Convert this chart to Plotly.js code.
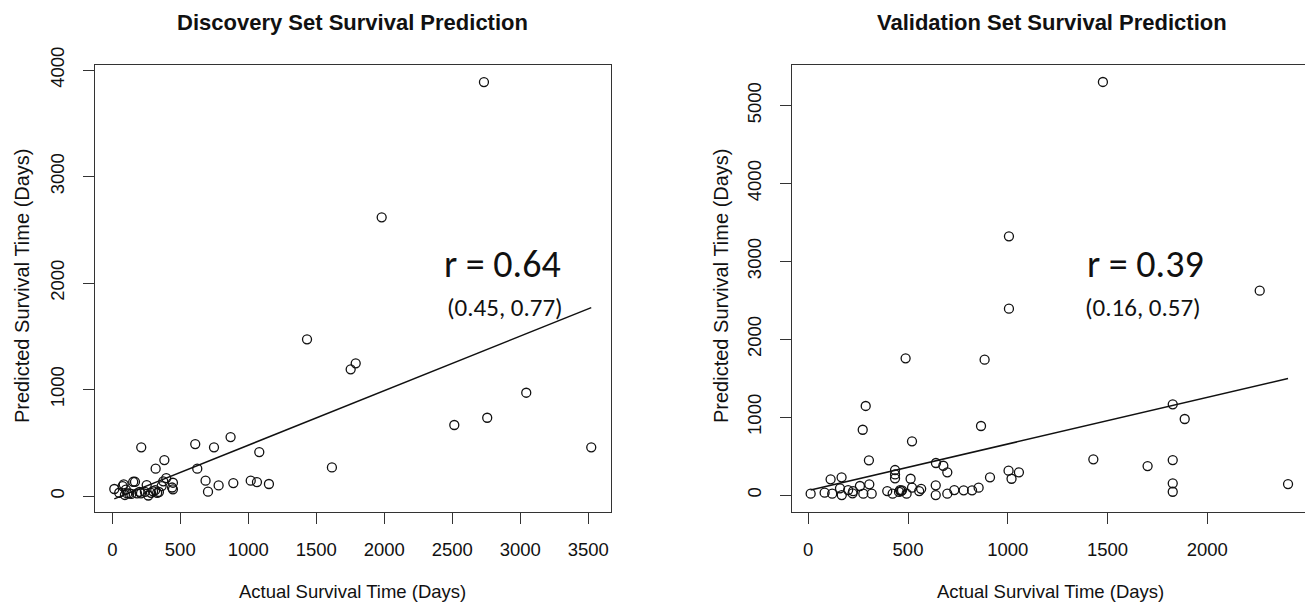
<!DOCTYPE html>
<html>
<head>
<meta charset="utf-8">
<script src="https://cdn.plot.ly/plotly-3.0.1.min.js"></script>
<style>html,body{margin:0;padding:0;background:#fff;}#chart{width:1305px;height:607px;}</style>
</head>
<body>
<div id="chart"></div>
<script>
// Discovery set: actual vs predicted survival (days)
const discActual = [15, 51, 76, 84, 93, 100, 110, 125, 140, 154, 167, 182, 200, 211, 213, 240, 253, 265, 285, 300, 316, 319, 330, 343, 363, 375, 383, 397, 440, 446, 446,
  610, 625, 686, 704, 748, 782, 870, 890, 1018, 1064, 1081, 1152, 1432, 1615, 1753, 1790, 1981, 2515, 2733, 2757, 3044, 3522];
const discPred = [66, 31, 94, 110, 10, 60, 25, 25, 20, 134, 134, 25, 40, 25, 457, 40, 103, 5, 30, 45, 56, 257, 30, 38, 94, 138, 338, 169, 80, 125, 63,
  488, 257, 144, 41, 457, 100, 554, 122, 144, 131, 413, 113, 1471, 269, 1190, 1246, 2617, 667, 3887, 735, 970, 457];
// Validation set
const valActual = [12, 82, 112, 120, 159, 167, 168, 200, 222, 225, 259, 273, 276, 288, 304, 306, 318, 396, 423, 435, 435, 435, 455, 460, 465, 470, 488, 493, 513, 520, 520,
  556, 566, 639, 639, 640, 677, 697, 697, 732, 779, 821, 854, 866, 884, 911, 1004, 1006, 1006, 1019, 1056, 1429, 1477, 1701, 1827, 1827, 1827, 1827, 1887, 2263, 2405];
const valPred = [17, 30, 201, 17, 86, 227, 0, 64, 22, 50, 116, 838, 17, 1143, 445, 137, 17, 51, 17, 214, 265, 321, 40, 64, 50, 60, 1755, 17, 209, 94, 689,
  51, 80, 124, 0, 411, 376, 291, 17, 64, 60, 60, 94, 886, 1737, 227, 312, 3321, 2392, 209, 291, 458, 5302, 372, 1164, 449, 150, 42, 976, 2623, 141];
// Fitted lines
const discFit = {slope: 0.512, intercept: -34.5};
const valFit = {slope: 0.598, intercept: 57};
const discXTicks = [0, 500, 1000, 1500, 2000, 2500, 3000, 3500];
const discYTicks = [0, 1000, 2000, 3000, 4000];
const valXTicks = [0, 500, 1000, 1500, 2000];
const valYTicks = [0, 1000, 2000, 3000, 4000, 5000];
const titles = ["Discovery Set Survival Prediction", "Validation Set Survival Prediction"];
const xTitle = "Actual Survival Time (Days)";
const yTitle = "Predicted Survival Time (Days)";
const rLabels = ["r = 0.64", "r = 0.39"];
const ciLabels = ["(0.45, 0.77)", "(0.16, 0.57)"];

function fitLine(xs, fit) {
  const lo = Math.min(...xs), hi = Math.max(...xs);
  return {x: [lo, hi], y: [fit.intercept + fit.slope * lo, fit.intercept + fit.slope * hi]};
}
const dl = fitLine(discActual, discFit);
const vl = fitLine(valActual, valFit);

const W = 1305, H = 607;
const px = v => v / W, py = v => 1 - v / H;
const FONT = "Liberation Sans, Arial, sans-serif";
const RFONT = "Carlito, Lato, sans-serif";
const mk = {symbol: 'circle-open', size: 9, color: '#111', line: {width: 1.3, color: '#111'}};

const data = [
  {x: discActual, y: discPred, type: 'scatter', mode: 'markers', marker: mk, xaxis: 'x', yaxis: 'y', hoverinfo: 'x+y'},
  {x: dl.x, y: dl.y, type: 'scatter', mode: 'lines', line: {color: '#111', width: 1.5}, xaxis: 'x', yaxis: 'y'},
  {x: valActual, y: valPred, type: 'scatter', mode: 'markers', marker: mk, xaxis: 'x2', yaxis: 'y2', hoverinfo: 'x+y'},
  {x: vl.x, y: vl.y, type: 'scatter', mode: 'lines', line: {color: '#111', width: 1.5}, xaxis: 'x2', yaxis: 'y2'}
];

const axBase = {showgrid: false, zeroline: false, showline: true, linecolor: '#333', linewidth: 1.2,
  ticks: 'outside', ticklen: 11, tickwidth: 1.2, tickcolor: '#333', mirror: true,
  tickfont: {family: FONT, size: 18.5, color: '#111'}, tickmode: 'array', fixedrange: true};

const layout = {
  width: W, height: H, showlegend: false,
  margin: {l: 0, r: 0, t: 0, b: 0},
  paper_bgcolor: '#fff', plot_bgcolor: '#fff',
  xaxis: Object.assign({}, axBase, {domain: [px(95), px(610.7)], range: [-127, 3665], tickvals: discXTicks, ticktext: discXTicks.map(String), anchor: 'y', ticklabelstandoff: 10}),
  yaxis: Object.assign({}, axBase, {domain: [py(511.7), py(65)], range: [-147, 4047], tickvals: discYTicks, ticktext: discYTicks.map(String), anchor: 'x', tickangle: -90, ticklabelstandoff: 12}),
  xaxis2: Object.assign({}, axBase, {domain: [px(792.3), 1], range: [-80, 2490], tickvals: valXTicks, ticktext: valXTicks.map(String), anchor: 'y2', ticklabelstandoff: 10}),
  yaxis2: Object.assign({}, axBase, {domain: [py(511.7), py(65)], range: [-214, 5520], tickvals: valYTicks, ticktext: valYTicks.map(String), anchor: 'x2', tickangle: -90, mirror: false, ticklabelstandoff: 12}),
  annotations: [
    {text: '<b>' + titles[0] + '</b>', xref: 'paper', yref: 'paper', x: px(353), y: py(22), showarrow: false, font: {family: FONT, size: 22, color: '#111'}, xanchor: 'center', yanchor: 'middle'},
    {text: '<b>' + titles[1] + '</b>', xref: 'paper', yref: 'paper', x: px(1052), y: py(22), showarrow: false, font: {family: FONT, size: 22, color: '#111'}, xanchor: 'center', yanchor: 'middle'},
    {text: xTitle, xref: 'paper', yref: 'paper', x: px(353), y: py(591), showarrow: false, font: {family: FONT, size: 18.5, color: '#111'}, xanchor: 'center', yanchor: 'middle'},
    {text: xTitle, xref: 'paper', yref: 'paper', x: px(1050), y: py(591), showarrow: false, font: {family: FONT, size: 18.5, color: '#111'}, xanchor: 'center', yanchor: 'middle'},
    {text: yTitle, xref: 'paper', yref: 'paper', x: px(22), y: py(286), showarrow: false, textangle: -90, font: {family: FONT, size: 20, color: '#111'}, xanchor: 'center', yanchor: 'middle'},
    {text: yTitle, xref: 'paper', yref: 'paper', x: px(721), y: py(286), showarrow: false, textangle: -90, font: {family: FONT, size: 20, color: '#111'}, xanchor: 'center', yanchor: 'middle'},
    {text: rLabels[0], xref: 'x', yref: 'y', x: 2873, y: 2178, showarrow: false, font: {family: RFONT, size: 38, color: '#111'}, xanchor: 'center', yanchor: 'middle'},
    {text: ciLabels[0], xref: 'x', yref: 'y', x: 2887, y: 1770, showarrow: false, font: {family: RFONT, size: 25, color: '#111'}, xanchor: 'center', yanchor: 'middle'},
    {text: rLabels[1], xref: 'x2', yref: 'y2', x: 1688, y: 2965, showarrow: false, font: {family: RFONT, size: 38, color: '#111'}, xanchor: 'center', yanchor: 'middle'},
    {text: ciLabels[1], xref: 'x2', yref: 'y2', x: 1678, y: 2408, showarrow: false, font: {family: RFONT, size: 25, color: '#111'}, xanchor: 'center', yanchor: 'middle'}
  ]
};

Plotly.newPlot('chart', data, layout, {displayModeBar: false, staticPlot: false});
</script>
</body>
</html>
